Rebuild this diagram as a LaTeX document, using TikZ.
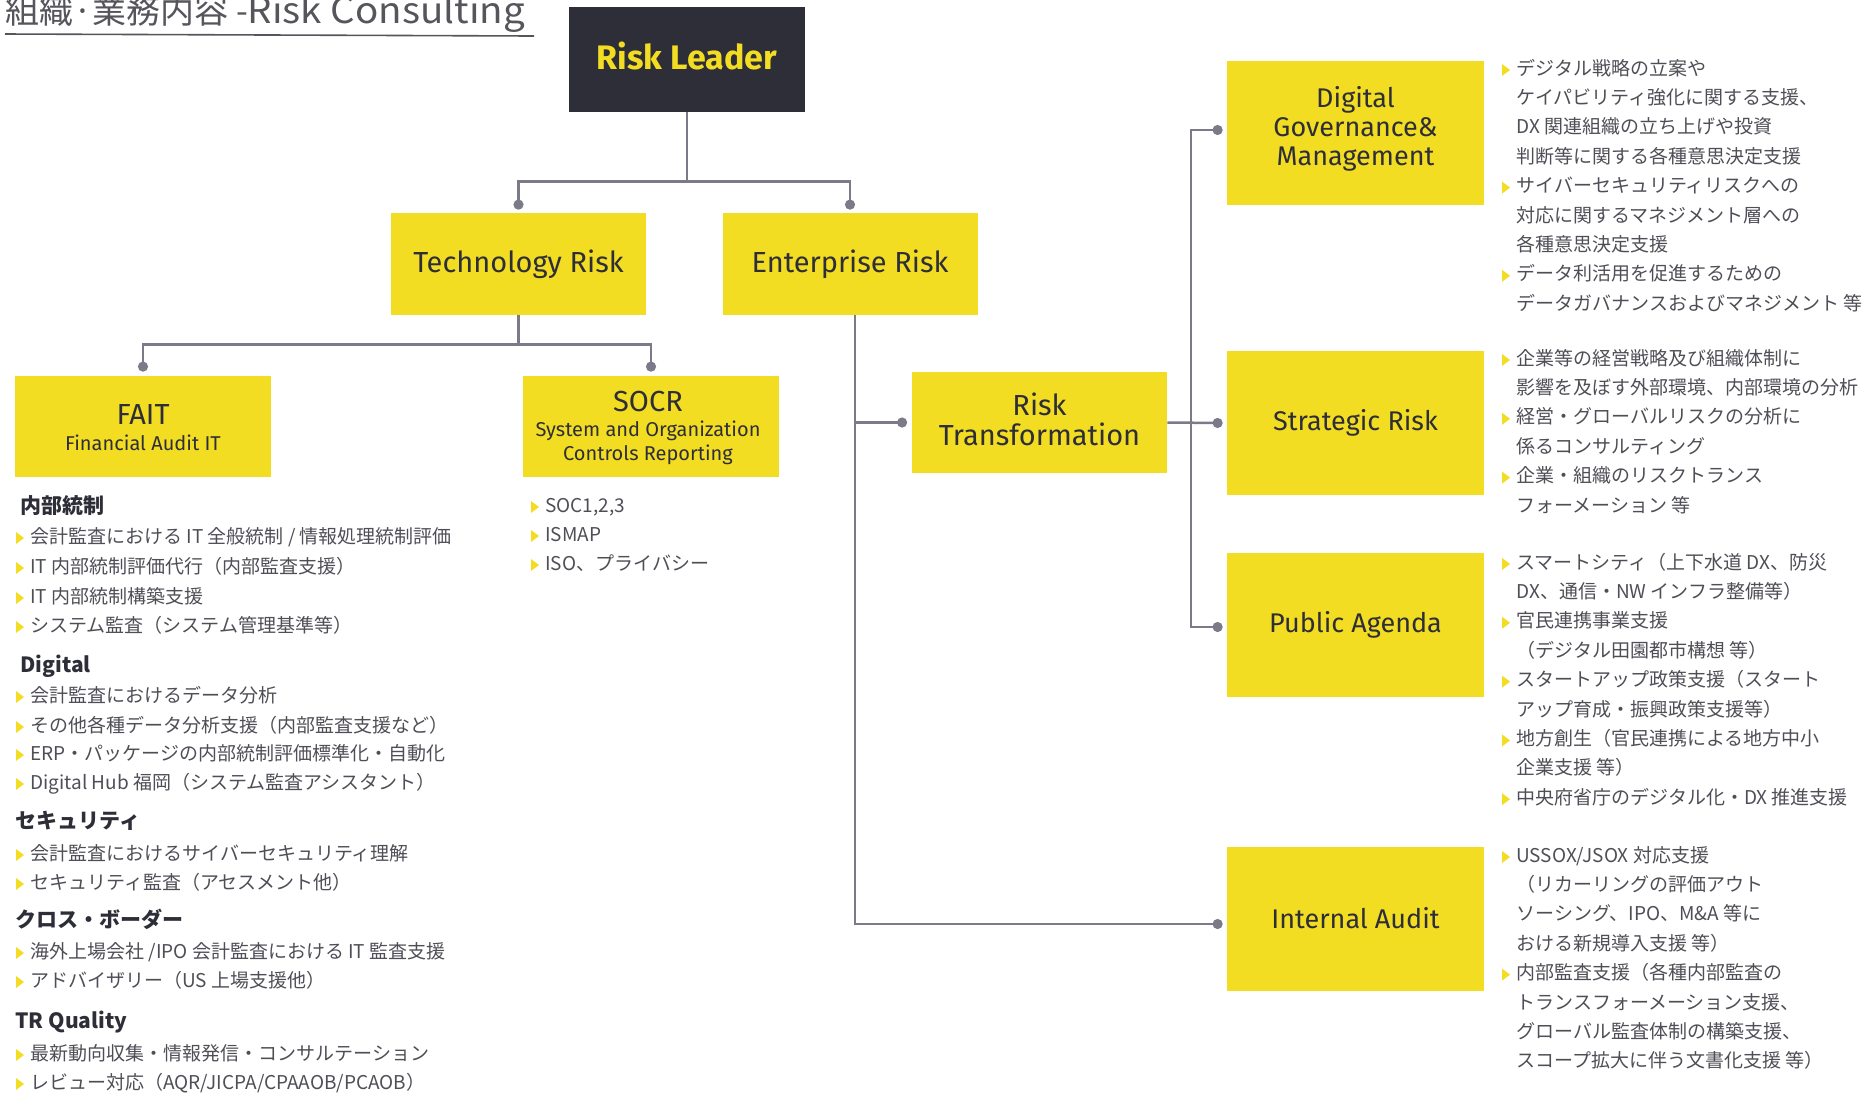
\documentclass[tikz,border=0pt]{standalone}
\usepackage{fontspec}
\setmainfont{Fira Sans}
\newfontfamily\jp{Noto Sans CJK JP}
\usetikzlibrary{arrows.meta}
\definecolor{eyyellow}{RGB}{242,221,34}
\definecolor{eydark}{RGB}{46,46,56}
\definecolor{conngray}{RGB}{122,122,136}
\definecolor{listgray}{RGB}{78,78,86}
\definecolor{titlegray}{RGB}{85,85,92}
\newcounter{lno}
\newcommand\tline[3]{\stepcounter{lno}\node[listtxt] (ln\thelno) at (#1,#2) {#3};}
\newcommand\bline[3]{\fill[eyyellow] (#1-14,#2+1) -- (#1-14,#2-11) -- (#1-6,#2-5) -- cycle;\tline{#1}{#2}{#3}}
\newcommand\headl[3]{\stepcounter{lno}\node[headtxt] (hd\thelno) at (#1,#2) {#3};}
\begin{document}
\begin{tikzpicture}[x=0.5pt,y=-0.5pt,
  ybox/.style={fill=eyyellow, draw=none, inner sep=0pt, align=center, text=eydark,
    minimum width=127.5pt, minimum height=51pt, font=\fontsize{14.5}{15}\selectfont},
  sbox/.style={fill=eyyellow, draw=none, inner sep=0pt, minimum width=128pt, minimum height=50.5pt},
  rbox/.style={fill=eyyellow, draw=none, inner sep=0pt, align=center, text=eydark,
    minimum width=128.5pt, minimum height=72pt, font=\fontsize{13.5}{14.5}\selectfont},
  darkbox/.style={fill=eydark, draw=none, inner sep=0pt,
    minimum width=118pt, minimum height=52.5pt},
  lbl/.style={anchor=base, inner sep=0pt, text=eydark},
  clbl/.style={inner sep=0pt, align=center, text=eydark},
  conn/.style={draw=conngray, line width=1.25pt},
  dot/.style={-{Circle[length=5pt]}},
  listtxt/.style={anchor=base west, inner sep=0pt, text=listgray, font=\jp\fontsize{9.5}{12}\selectfont},
  headtxt/.style={anchor=base west, inner sep=0pt, text=eydark, font=\jp\bfseries\fontsize{10.5}{12}\selectfont}
]
\useasboundingbox (0,0) rectangle (1872,1094);

% title
\node[anchor=base west, inner sep=0pt, text=titlegray, font=\jp\fontsize{17}{20}\selectfont] (title) at (5,23) {組織·業務内容 -{\fontsize{18}{20}\selectfont\scalebox{1.07}[1]{Risk Consulting}}};
\draw[titlegray, line width=0.8pt] (5,34) -- (534,36);

% boxes
\node[darkbox] (leader) at (687,59.5) {};
\node[clbl, text=eyyellow, font=\bfseries\fontsize{17}{20}\selectfont] (leaderT) at (687,55.5) {Risk Leader};
\node[ybox] (tech) at (518.5,264) {Technology Risk};
\node[ybox] (ent) at (850,264) {Enterprise Risk};
\node[sbox] (fait) at (143,426.5) {};
\node[sbox] (socr) at (651,426.5) {};
\node[ybox, minimum height=50.5pt] (rt) at (1039.5,422.5) {};
\node[clbl, font=\fontsize{14.5}{15}\selectfont] (rtT) at (1039.5,419.5) {Risk\\Transformation};
\node[rbox] (dgm) at (1355.5,133) {};
\node[clbl, font=\fontsize{13.5}{14.5}\selectfont] (dgmT) at (1355.5,128.5) {Digital\\Governance\&\\Management};
\node[rbox] (sr) at (1355.5,423) {Strategic Risk};
\node[rbox] (pa) at (1355.5,625) {Public Agenda};
\node[rbox] (ia) at (1355.5,918.5) {Internal Audit};

% box labels FAIT / SOCR
\node[lbl, font=\fontsize{14.5}{15}\selectfont] (faitT) at (143,424) {FAIT};
\node[lbl, font=\fontsize{10}{12}\selectfont] (faitS) at (143,450) {Financial Audit IT};
\node[lbl, font=\fontsize{14.5}{15}\selectfont] (socrT) at (648,411) {SOCR};
\node[lbl, font=\fontsize{10}{12}\selectfont] (socrS1) at (648,436) {System and Organization};
\node[lbl, font=\fontsize{10}{12}\selectfont] (socrS2) at (648,460) {Controls Reporting};

% connectors
\coordinate (techdot) at ([yshift=1.5pt]tech.north);
\coordinate (entdot) at ([yshift=1.5pt]ent.north);
\draw[conn] (leader.south) -- ++(0,69) coordinate (lj);
\draw[conn,dot] (lj) -| (techdot);
\draw[conn,dot] (lj) -| (entdot);

\coordinate (faitdot) at ([yshift=2pt]fait.north);
\coordinate (socrdot) at ([yshift=2pt]socr.north);
\draw[conn] (tech.south) -- ++(0,29) coordinate (tj);
\draw[conn,dot] (tj) -| (faitdot);
\draw[conn,dot] (tj) -| (socrdot);

\coordinate (ev) at ([xshift=2.5pt]ent.south);
\coordinate (rtdot) at ([xshift=-2.25pt]rt.west);
\coordinate (iadot) at ([xshift=-2pt,yshift=-2.75pt]ia.west);
\draw[conn,dot] (ev) |- (iadot);
\draw[conn,dot] (ev |- rtdot) -- (rtdot);

\coordinate (srdot) at ([xshift=-2pt]sr.west);
\draw[conn,dot] (rt.east) -- (srdot);
\coordinate (bus) at (1191,423);
\coordinate (dgdot) at ([xshift=-2pt,yshift=1.5pt]dgm.west);
\coordinate (padot) at ([xshift=-2pt,yshift=-1pt]pa.west);
\draw[conn,{Circle[length=5pt]}-{Circle[length=5pt]}] (dgdot) -| (bus) |- (padot);

% DGM list
\bline{1516}{75}{デジタル戦略の立案や}
\tline{1516}{104.4}{ケイパビリティ強化に関する支援、}
\tline{1516}{133.8}{DX 関連組織の立ち上げや投資}
\tline{1516}{163.2}{判断等に関する各種意思決定支援}
\bline{1516}{192.6}{サイバーセキュリティリスクへの}
\tline{1516}{222}{対応に関するマネジメント層への}
\tline{1516}{251.4}{各種意思決定支援}
\bline{1516}{280.8}{データ利活用を促進するための}
\tline{1516}{310.2}{データガバナンスおよびマネジメント 等}

% Strategic list
\bline{1516}{365}{企業等の経営戦略及び組織体制に}
\tline{1516}{394.4}{影響を及ぼす外部環境、内部環境の分析}
\bline{1516}{423.8}{経営・グローバルリスクの分析に}
\tline{1516}{453.2}{係るコンサルティング}
\bline{1516}{482.6}{企業・組織のリスクトランス}
\tline{1516}{512}{フォーメーション 等}

% Public list
\bline{1516}{569}{スマートシティ（上下水道 DX、防災}
\tline{1516}{598.4}{DX、通信・NW インフラ整備等）}
\bline{1516}{627.8}{官民連携事業支援}
\tline{1516}{657.2}{（デジタル田園都市構想 等）}
\bline{1516}{686.6}{スタートアップ政策支援（スタート}
\tline{1516}{716}{アップ育成・振興政策支援等）}
\bline{1516}{745.4}{地方創生（官民連携による地方中小}
\tline{1516}{774.8}{企業支援 等）}
\bline{1516}{804.2}{中央府省庁のデジタル化・DX 推進支援}

% Internal audit list
\bline{1516}{862}{USSOX/JSOX 対応支援}
\tline{1516}{891.4}{（リカーリングの評価アウト}
\tline{1516}{920.8}{ソーシング、IPO、M\&A 等に}
\tline{1516}{950.2}{おける新規導入支援 等）}
\bline{1516}{979.6}{内部監査支援（各種内部監査の}
\tline{1516}{1009}{トランスフォーメーション支援、}
\tline{1516}{1038.4}{グローバル監査体制の構築支援、}
\tline{1516}{1067.8}{スコープ拡大に伴う文書化支援 等）}

% SOCR list
\bline{545}{512}{SOC1,2,3}
\bline{545}{541}{ISMAP}
\bline{545}{570}{ISO、プライバシー}

% FAIT list
\headl{20}{513}{内部統制}
\bline{30}{543}{会計監査における IT 全般統制 / 情報処理統制評価}
\bline{30}{573}{IT 内部統制評価代行（内部監査支援）}
\bline{30}{603}{IT 内部統制構築支援}
\bline{30}{632}{システム監査（システム管理基準等）}
\headl{20}{672}{Digital}
\bline{30}{702}{会計監査におけるデータ分析}
\bline{30}{732}{その他各種データ分析支援（内部監査支援など）}
\bline{30}{760}{ERP・パッケージの内部統制評価標準化・自動化}
\bline{30}{789}{Digital Hub 福岡（システム監査アシスタント）}
\headl{15}{828}{セキュリティ}
\bline{30}{860}{会計監査におけるサイバーセキュリティ理解}
\bline{30}{889}{セキュリティ監査（アセスメント他）}
\headl{15}{927}{クロス・ボーダー}
\bline{30}{958}{海外上場会社 /IPO 会計監査における IT 監査支援}
\bline{30}{987}{アドバイザリー（US 上場支援他）}
\headl{15}{1028}{TR Quality}
\bline{30}{1060}{最新動向収集・情報発信・コンサルテーション}
\bline{30}{1089}{レビュー対応（AQR/JICPA/CPAAOB/PCAOB）}
\end{tikzpicture}
\end{document}
